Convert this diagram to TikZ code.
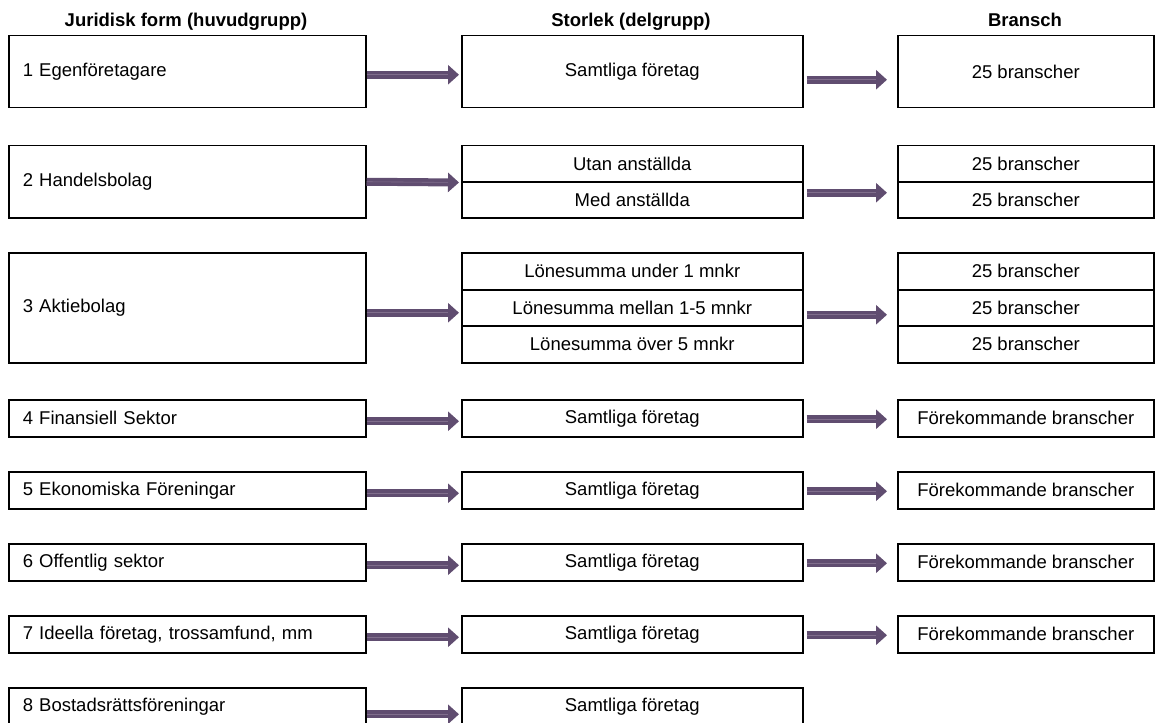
\documentclass[tikz,border=0pt]{standalone}
\usepackage{fontspec}
\setmainfont{Liberation Sans}
\usetikzlibrary{arrows.meta}
\definecolor{flowc}{RGB}{96,77,112}
\definecolor{flowlt}{RGB}{128,110,140}

\begin{document}
\begin{tikzpicture}[x=1pt, y=-1pt,
  font=\fontsize{18.5}{22}\selectfont,
  hdr/.style={font=\fontsize{18.5}{22}\selectfont\bfseries, anchor=base},
  formbox/.style={draw, line width=1.5pt, anchor=north west, minimum height=#1,
    text width=329pt, inner xsep=14pt, inner ysep=0pt, align=left},
  formbox/.default=37pt,
  sizebox/.style={draw, line width=1.5pt, anchor=north west, minimum height=#1,
    minimum width=341pt, inner sep=0pt},
  sizebox/.default=37pt,
  brbox/.style={draw, line width=1.5pt, anchor=north west, minimum height=#1,
    minimum width=256pt, inner sep=0pt},
  brbox/.default=37pt,
  flow/.style={-{Triangle[length=11pt,width=19pt]}, line width=8pt, draw=flowc,
    postaction={draw=flowlt, line width=0.6pt, -, shorten >=11pt}}
]
\useasboundingbox (0,0) rectangle (1155,722);
\clip (0,0) rectangle (1155,722);

% column heads
\node[hdr] (h1) at (186,27)  {Juridisk form (huvudgrupp)};
\node[hdr] (h2) at (631,27)  {Storlek (delgrupp)};
\node[hdr] (h3) at (1025,27) {Bransch};

% 1 Egenföretagare
\node[formbox=72pt] (jf1) at (8,35)  {1 Egenföretagare};
\node[sizebox=72pt] (st1) at (461,35) {Samtliga företag};
\node[brbox=72pt]   (br1) at (897,35) {25 branscher};

% 2 Handelsbolag
\node[formbox=72pt] (jf2)  at (8,145)   {2 Handelsbolag};
\node[sizebox=36pt] (st2a) at (461,145) {Utan anställda};
\node[sizebox=36pt] (st2b) at (461,181) {Med anställda};
\node[brbox=36pt]   (br2a) at (897,145) {25 branscher};
\node[brbox=36pt]   (br2b) at (897,181) {25 branscher};

% 3 Aktiebolag
\node[formbox=110pt] (jf3)  at (8,252)   {3 Aktiebolag};
\node[sizebox=37pt]  (st3a) at (461,252) {Lönesumma under 1 mnkr};
\node[sizebox=36pt]  (st3b) at (461,289) {Lönesumma mellan 1-5 mnkr};
\node[sizebox=37pt]  (st3c) at (461,325) {Lönesumma över 5 mnkr};
\node[brbox=37pt]    (br3a) at (897,252) {25 branscher};
\node[brbox=36pt]    (br3b) at (897,289) {25 branscher};
\node[brbox=37pt]    (br3c) at (897,325) {25 branscher};

% 4 -- 8, one line each
\node[formbox] (jf4) at (8,399)   {4 Finansiell Sektor};
\node[sizebox] (st4) at (461,399) {Samtliga företag};
\node[brbox]   (br4) at (897,399) {Förekommande branscher};

\node[formbox] (jf5) at (8,471)   {5 Ekonomiska Föreningar};
\node[sizebox] (st5) at (461,471) {Samtliga företag};
\node[brbox]   (br5) at (897,471) {Förekommande branscher};

\node[formbox] (jf6) at (8,543)   {6 Offentlig sektor};
\node[sizebox] (st6) at (461,543) {Samtliga företag};
\node[brbox]   (br6) at (897,543) {Förekommande branscher};

\node[formbox] (jf7) at (8,615)   {7 Ideella företag, trossamfund, mm};
\node[sizebox] (st7) at (461,615) {Samtliga företag};
\node[brbox]   (br7) at (897,615) {Förekommande branscher};

\node[formbox] (jf8) at (8,687)   {8 Bostadsrättsföreningar};
\node[sizebox] (st8) at (461,687) {Samtliga företag};

% arrows
\draw[flow] ([yshift=-3pt]jf1.east) -- ([xshift=-2pt,yshift=-3pt]st1.west);
\draw[flow] ([xshift=3pt,yshift=-8pt]st1.east) -- ([xshift=-10pt,yshift=-8pt]br1.west);
\draw[flow] (jf2.east) -- ([xshift=-2pt]st2a.south west);
\draw[flow] ([xshift=3pt,yshift=7pt]st2b.east) -- ([xshift=-10pt,yshift=7pt]br2b.west);
\draw[flow] ([yshift=-5pt]jf3.east) -- ([xshift=-2pt,yshift=-5pt]st3b.west);
\draw[flow] ([xshift=3pt,yshift=-7pt]st3b.east) -- ([xshift=-10pt,yshift=-7pt]br3b.west);
\foreach \i in {4,...,7} {
  \draw[flow] ([yshift=-3pt]jf\i.east) -- ([xshift=-2pt,yshift=-3pt]st\i.west);
  \draw[flow] ([xshift=3pt,yshift=-1pt]st\i.east) -- ([xshift=-10pt,yshift=-1pt]br\i.west);
}
\draw[flow] ([yshift=-8pt]jf8.east) -- ([xshift=-2pt,yshift=-8pt]st8.west);
\end{tikzpicture}
\end{document}
